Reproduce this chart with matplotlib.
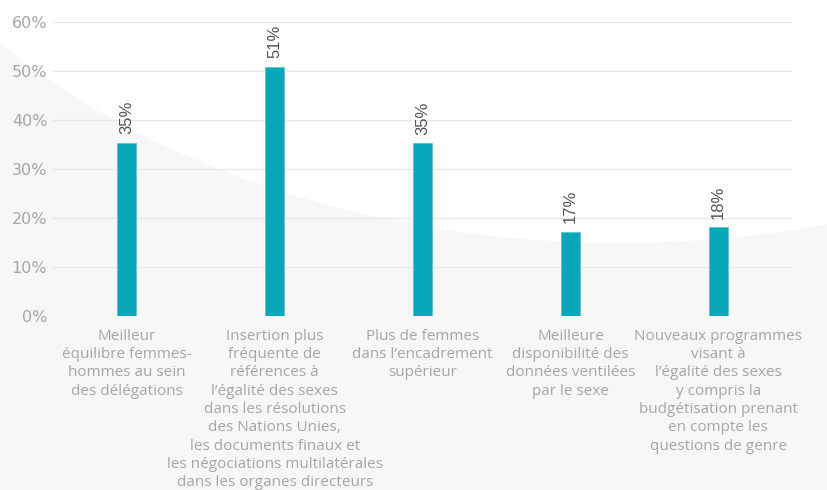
import matplotlib.pyplot as plt
from matplotlib.patches import Ellipse

# Daten
categories = [
    "Meilleur\néquilibre femmes-\nhommes au sein\ndes délégations",
    "Insertion plus\nfréquente de\nréférences à\nl’égalité des sexes\ndans les résolutions\ndes Nations Unies,\nles documents finaux et\nles négociations multilatérales\ndans les organes directeurs",
    "Plus de femmes\ndans l’encadrement\nsupérieur",
    "Meilleure\ndisponibilité des\ndonnées ventilées\npar le sexe",
    "Nouveaux programmes\nvisant à\nl’égalité des sexes\ny compris la\nbudgétisation prenant\nen compte les\nquestions de genre",
]
values = [35.4, 50.9, 35.3, 17.2, 18.2]
value_labels = ["35%", "51%", "35%", "17%", "18%"]
yticks = [0, 10, 20, 30, 40, 50, 60]

bar_color = '#07a6b8'
grey_text = '#a6a6a6'

fig = plt.figure(figsize=(8.27, 4.9), dpi=100)
fig.patch.set_facecolor('#f7f7f7')

# Hintergrund: weisse Ellipse in Pixelkoordinaten
bg_ax = fig.add_axes([0, 0, 1, 1], zorder=-1)
bg_ax.set_xlim(0, 827)
bg_ax.set_ylim(490, 0)
bg_ax.axis('off')
bg_ax.add_patch(Ellipse((620, -335), 1640, 1156, facecolor='white',
                        edgecolor='none'))

ax = fig.add_axes([0.064, 0.355, 0.894, 0.600], zorder=1)
ax.set_facecolor('none')

x = list(range(len(values)))
ax.bar(x, values, width=0.13, color=bar_color, edgecolor='#5cc6d2',
       linewidth=0.6, zorder=3)

for xi, v, lab in zip(x, values, value_labels):
    ax.annotate(lab, (xi, v), xytext=(0, 6), textcoords='offset points',
                rotation=90, ha='center', va='bottom', fontsize=12,
                color='#555555', family='Liberation Sans')

ax.set_xlim(-0.5, len(values) - 0.5)
ax.set_ylim(0, 60)
ax.set_yticks(yticks)
ax.set_yticklabels([f"{t}%" for t in yticks], family='DejaVu Sans',
                   fontsize=11.5, color=grey_text)
ax.tick_params(axis='y', length=0, pad=4)
ax.set_xticks([])

ax.grid(axis='y', color='#e8e8e8', linewidth=1, zorder=1)
ax.set_axisbelow(True)
for s in ax.spines.values():
    s.set_visible(False)

# Kategorien: jede Zeile einzeln, zentriert unter dem Balken
for xi, cat in zip(x, categories):
    for i, line in enumerate(cat.split('\n')):
        ax.annotate(line, (xi, 0), xytext=(0, -14.4 - i * 13.2),
                    textcoords='offset points', ha='center', va='center',
                    fontsize=11, color=grey_text, family='Open Sans')

plt.savefig('out.png', dpi=100, facecolor=fig.get_facecolor())
